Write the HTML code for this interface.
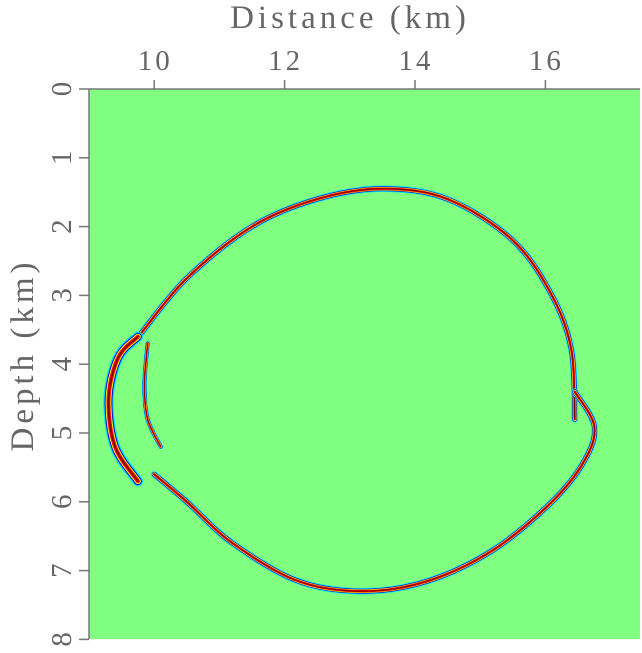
<!DOCTYPE html>
<html><head><meta charset="utf-8"><style>
html,body{margin:0;padding:0;background:#fff;}
svg text{font-family:"Liberation Serif",serif;fill:#666;}
</style></head><body>
<svg id="chart" width="642" height="648" viewBox="0 0 642 648" xmlns="http://www.w3.org/2000/svg">
<rect x="89" y="89" width="551" height="550" fill="#80ff80"/>
<g id="marks"></g>
<g id="axes"></g>
<text x="350" y="28" text-anchor="middle" font-size="33" letter-spacing="4">Distance (km)</text>
<text transform="translate(33,355) rotate(-90)" text-anchor="middle" font-size="33" letter-spacing="4">Depth (km)</text>
</svg>
<script>
const xTicks=[10,12,14,16];
const yTicks=[0,1,2,3,4,5,6,7,8];
const upperFrontX=[9.8,10.5,11.5,12.5,13.5,14.5,15.5,16.1,16.4,16.45];
const upperFrontZ=[3.55,2.75,2.0,1.6,1.45,1.6,2.2,3.0,3.8,4.8];
const lowerFrontX=[16.45,16.75,16.6,16.1,15.2,14.2,13.2,12.2,11.2,10.5,10.0];
const lowerFrontZ=[4.4,4.9,5.4,6.0,6.7,7.15,7.3,7.15,6.6,6.0,5.6];
const leftArcX=[9.75,9.45,9.3,9.4,9.75];
const leftArcZ=[3.6,3.9,4.5,5.2,5.7];
const innerArcX=[9.9,9.85,9.9,10.1];
const innerArcZ=[3.7,4.3,4.8,5.2];
const X0=89,PX=65.2,Y0=89,PZ=68.8;
const sx=v=>X0+(v-9)*PX, sy=v=>Y0+v*PZ;
const NS="http://www.w3.org/2000/svg";
const marks=document.getElementById('marks'), axes=document.getElementById('axes');
function pathD(xs,zs){
  const p=xs.map((x,i)=>[sx(x),sy(zs[i])]);
  let d="M"+p[0][0]+","+p[0][1];
  for(let i=0;i<p.length-1;i++){
    const p0=p[Math.max(0,i-1)],p1=p[i],p2=p[i+1],p3=p[Math.min(p.length-1,i+2)];
    const c1=[p1[0]+(p2[0]-p0[0])/6,p1[1]+(p2[1]-p0[1])/6];
    const c2=[p2[0]-(p3[0]-p1[0])/6,p2[1]-(p3[1]-p1[1])/6];
    d+=" C"+c1+" "+c2+" "+p2;
  }
  return d;
}
function front(xs,zs,name,scale){
  const styles=[["#00e0ff",8],["#0000cc",6],["#ffff00",4.5],["#ff0000",3],["#800000",1.3]];
  styles.forEach(s=>{
    const el=document.createElementNS(NS,'path');
    
    
    el.setAttribute('d',pathD(xs,zs));
    el.setAttribute('fill','none');
    el.setAttribute('stroke',s[0]);
    el.setAttribute('stroke-width',s[1]*scale);
    el.setAttribute('stroke-linecap','round');
    marks.appendChild(el);
  });
}
front(upperFrontX,upperFrontZ,'upper-wavefront',0.8);
front(lowerFrontX,lowerFrontZ,'lower-wavefront',0.8);
front(leftArcX,leftArcZ,'left-wavefront',1.3);
front(innerArcX,innerArcZ,'inner-wavefront',0.6);
function line(x1,y1,x2,y2,name){
  const l=document.createElementNS(NS,'line');
  
  
  l.setAttribute('x1',x1);l.setAttribute('y1',y1);l.setAttribute('x2',x2);l.setAttribute('y2',y2);
  l.setAttribute('stroke','#777');l.setAttribute('stroke-width','1.5');
  axes.appendChild(l);
}
line(89,89,640,89,'top-axis-line');
line(89,89,89,639,'left-axis-line');
xTicks.forEach(v=>{
  line(sx(v),80,sx(v),89,'x-tick');
  const t=document.createElementNS(NS,'text');
  
  
  t.setAttribute('x',sx(v)+1);t.setAttribute('y',70);t.setAttribute('text-anchor','middle');t.setAttribute('font-size','29');t.setAttribute('letter-spacing','3');
  t.textContent=v;axes.appendChild(t);
});
yTicks.forEach(v=>{
  line(79,sy(v),89,sy(v),'y-tick');
  const t=document.createElementNS(NS,'text');
  
  
  t.setAttribute('transform','translate(71,'+sy(v)+') rotate(-90)');
  t.setAttribute('text-anchor','middle');t.setAttribute('font-size','29');
  t.textContent=v;axes.appendChild(t);
});
</script>
</body></html>
